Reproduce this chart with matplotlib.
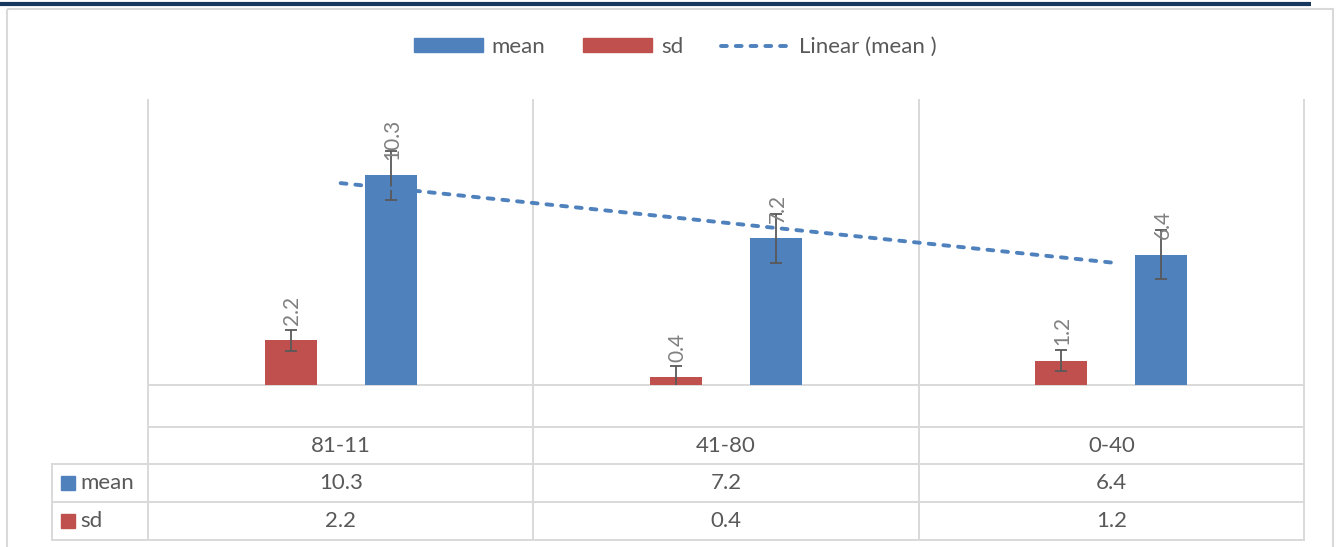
import matplotlib

matplotlib.use('Agg')
import matplotlib.pyplot as plt
import matplotlib.transforms as mtransforms
from matplotlib.patches import Rectangle, Patch
from matplotlib.lines import Line2D
import numpy as np

plt.rcParams['font.family'] = ['Lato', 'DejaVu Sans']

# --- data ---
categories = ['81-11', '41-80', '0-40']
mean = [10.3, 7.2, 6.4]
sd = [2.2, 0.4, 1.2]
mean_err = [1.19, 1.19, 1.19]   # Excel "standard error" bars
sd_err = [0.52, 0.52, 0.52]

BLUE = '#4F81BD'
RED = '#C0504D'
TXT = '#595959'
GRID = '#D9D9D9'

W, H = 1338, 547
fig = plt.figure(figsize=(W / 100, H / 100), dpi=100)

# background / table layer in pixel coordinates
bg = fig.add_axes([0, 0, 1, 1], zorder=0)
bg.set_xlim(0, W)
bg.set_ylim(H, 0)
bg.axis('off')

# plot area
ax = fig.add_axes([148 / W, (H - 385) / H, (1304 - 148) / W, (385 - 100) / H], zorder=1)
ax.patch.set_alpha(0)
x = np.arange(1, len(categories) + 1)
off, bw = 0.13, 0.135
ax.bar(x - off, sd, bw, color=RED, zorder=2)
ax.bar(x + off, mean, bw, color=BLUE, zorder=2)
ax.errorbar(x - off, sd, yerr=sd_err, fmt='none', ecolor=TXT, elinewidth=1.3, capsize=4, capthick=1.3, zorder=3)
ax.errorbar(x + off, mean, yerr=mean_err, fmt='none', ecolor=TXT, elinewidth=1.3, capsize=4, capthick=1.3, zorder=3)
for xs, vals in [(x - off, sd), (x + off, mean)]:
    for xi, v in zip(xs, vals):
        ax.annotate(f'{v:g}', (xi, v), xytext=(1, 11), textcoords='offset points',
                    rotation=90, ha='center', va='bottom', fontsize=15, color='#808080', zorder=4)

# linear trendline of mean
k, b0 = np.polyfit(x, mean, 1)
ax.plot(x, k * x + b0, color=BLUE, lw=2.8, dashes=(1.5, 2.3), dash_capstyle='round', zorder=4)

ax.set_xlim(0.5, len(categories) + 0.5)
ax.set_ylim(0, 14)
ax.axis('off')

# chart frame and top rule
bg.add_patch(Rectangle((7, 9), 1333 - 7, H, fill=False, ec=GRID, lw=1.5))
bg.plot([0, 1311], [4, 4], color='#17375E', lw=3, solid_capstyle='butt')

# grid / data table
tr = mtransforms.blended_transform_factory(ax.transData, bg.transData)
edges = np.arange(0.5, len(categories) + 1, 1.0)
for e in edges:
    bg.plot([e, e], [100, 540], color=GRID, lw=1.4, transform=tr)
for yy in [385, 427]:
    bg.plot([edges[0], edges[-1]], [yy, yy], color=GRID, lw=1.4, transform=tr)
for yy in [464, 502, 540]:
    bg.plot([52, 1304], [yy, yy], color=GRID, lw=1.4)
bg.plot([52, 52], [464, 540], color=GRID, lw=1.4)

for xi, c, m, s in zip(x, categories, mean, sd):
    bg.text(xi, 446, c, transform=tr, ha='center', va='center', fontsize=16, color=TXT)
    bg.text(xi, 483, f'{m:g}', transform=tr, ha='center', va='center', fontsize=16, color=TXT)
    bg.text(xi, 521, f'{s:g}', transform=tr, ha='center', va='center', fontsize=16, color=TXT)

for yy, lab, col in [(483, 'mean', BLUE), (521, 'sd', RED)]:
    bg.add_patch(Rectangle((61, yy - 7), 14, 14, color=col))
    bg.text(80, yy, lab, ha='left', va='center', fontsize=16, color=TXT)

# legend
handles = [Patch(color=BLUE), Patch(color=RED),
           Line2D([], [], color=BLUE, lw=2.8, dashes=(1.5, 2.3), dash_capstyle='round')]
fig.legend(handles, ['mean', 'sd', 'Linear (mean )'], loc='center', ncol=3,
           bbox_to_anchor=(675 / W, 1 - 47 / H), frameon=False, fontsize=16,
           handlelength=3.1, handleheight=0.6, handletextpad=0.4, columnspacing=1.7,
           labelcolor=TXT)

fig.savefig('out.png', dpi=100)
